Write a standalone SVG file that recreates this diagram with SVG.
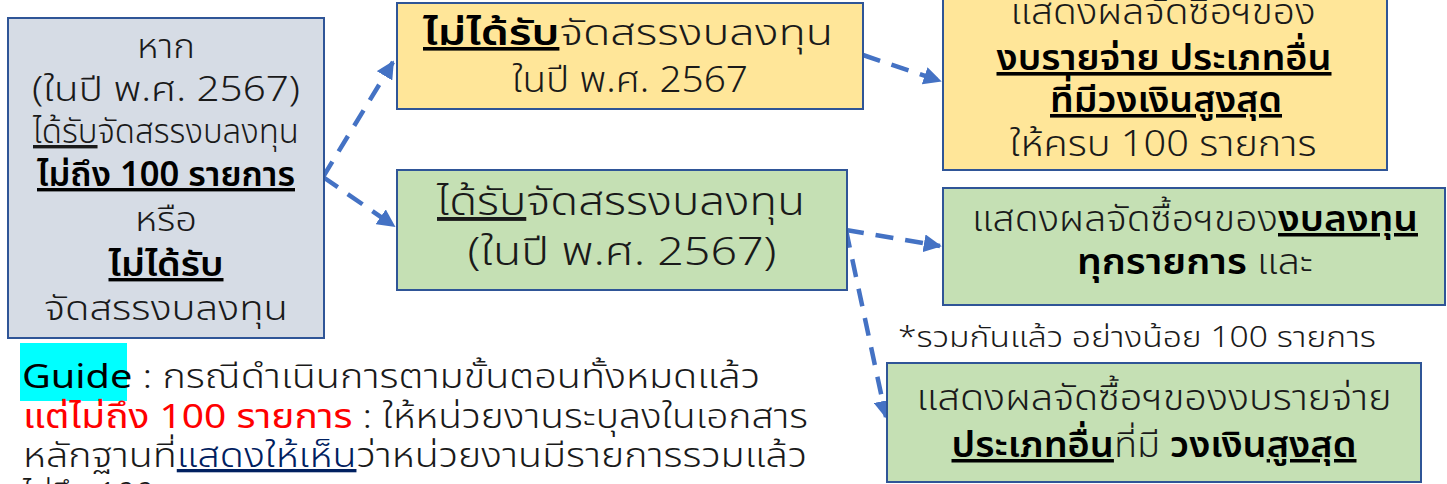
<svg xmlns="http://www.w3.org/2000/svg" width="1447" height="484" viewBox="0 0 1447 484">
<style>
text{font-family:"Noto Sans Thai","Leelawadee UI","Noto Sans",sans-serif;fill:#1a1a1a;font-weight:300}
.c{text-anchor:middle}
.b{font-weight:600;fill:#000}
.u{text-decoration:underline}
.box{stroke:#2F5597;stroke-width:2}
.gray{fill:#D6DCE5}.yel{fill:#FFE699}.grn{fill:#C5E0B4}
.con{fill:none;stroke:#4472C4;stroke-width:4.5;stroke-dasharray:18 12}
</style>
<defs>
<marker id="ah" viewBox="0 0 10 10" refX="9" refY="5" markerWidth="4" markerHeight="4" orient="auto" markerUnits="strokeWidth">
<path d="M0,0 L10,5 L0,10 z" fill="#4472C4"/>
</marker>
</defs>
<g id="connectors">
<path class="con" d="M323,177 L393,62" marker-end="url(#ah)"/>
<path class="con" d="M323,177 L394,226" marker-end="url(#ah)"/>
<path class="con" d="M863,55 L940,81" marker-end="url(#ah)"/>
<path class="con" d="M846,230 L940,246" marker-end="url(#ah)"/>
<path class="con" d="M846,230 L886,417" marker-end="url(#ah)"/>
</g>
<g id="n1" font-size="34">
<rect class="box gray" x="8" y="18" width="316" height="320"/>
<text class="c" x="166" y="58" textLength="58" lengthAdjust="spacingAndGlyphs">หาก</text>
<text class="c" x="166" y="101" textLength="268" lengthAdjust="spacingAndGlyphs">(ในปี พ.ศ. 2567)</text>
<text class="c" x="166" y="143" textLength="266" lengthAdjust="spacingAndGlyphs"><tspan class="u">ได้รับ</tspan>จัดสรรงบลงทุน</text>
<text class="c b u" x="166" y="186" textLength="258" lengthAdjust="spacingAndGlyphs">ไม่ถึง 100 รายการ</text>
<text class="c" x="166" y="231" textLength="62" lengthAdjust="spacingAndGlyphs">หรือ</text>
<text class="c b u" x="166" y="276" textLength="115" lengthAdjust="spacingAndGlyphs">ไม่ได้รับ</text>
<text class="c" x="166" y="320" textLength="244" lengthAdjust="spacingAndGlyphs">จัดสรรงบลงทุน</text>
</g>
<g id="n2" font-size="36">
<rect class="box yel" x="397" y="3" width="466" height="106"/>
<text class="c" x="628" y="45" textLength="410" lengthAdjust="spacingAndGlyphs"><tspan class="b u">ไม่ได้รับ</tspan>จัดสรรงบลงทุน</text>
<text class="c" x="630" y="92" textLength="236" lengthAdjust="spacingAndGlyphs">ในปี พ.ศ. 2567</text>
</g>
<g id="n3" font-size="36">
<rect class="box yel" x="943" y="-5" width="444" height="175"/>
<text class="c" x="1163" y="24" textLength="305" lengthAdjust="spacingAndGlyphs">แสดงผลจัดซื้อฯของ</text>
<text class="c b u" x="1164" y="70" textLength="335" lengthAdjust="spacingAndGlyphs">งบรายจ่าย ประเภทอื่น</text>
<text class="c b u" x="1166" y="112" textLength="232" lengthAdjust="spacingAndGlyphs">ที่มีวงเงินสูงสุด</text>
<text class="c" x="1163" y="156" textLength="307" lengthAdjust="spacingAndGlyphs">ให้ครบ 100 รายการ</text>
</g>
<g id="n4" font-size="39">
<rect class="box grn" x="397" y="170" width="450" height="120"/>
<text class="c" x="621" y="215" textLength="368" lengthAdjust="spacingAndGlyphs"><tspan class="u">ได้รับ</tspan>จัดสรรงบลงทุน</text>
<text class="c" x="622" y="265" textLength="309" lengthAdjust="spacingAndGlyphs">(ในปี พ.ศ. 2567)</text>
</g>
<g id="n5" font-size="35">
<rect class="box grn" x="943" y="188" width="502" height="117"/>
<text class="c" x="1195" y="231" textLength="446" lengthAdjust="spacingAndGlyphs">แสดงผลจัดซื้อฯของ<tspan class="b u">งบลงทุน</tspan></text>
<text class="c" x="1195" y="274" textLength="236" lengthAdjust="spacingAndGlyphs"><tspan class="b">ทุกรายการ</tspan> และ</text>
</g>
<g id="note">
<text x="898" y="347" font-size="29" textLength="478" lengthAdjust="spacingAndGlyphs">*รวมกันแล้ว อย่างน้อย 100 รายการ</text>
</g>
<g id="n6" font-size="35">
<rect class="box grn" x="887" y="363" width="534" height="119"/>
<text class="c" x="1154" y="410" textLength="475" lengthAdjust="spacingAndGlyphs">แสดงผลจัดซื้อฯของงบรายจ่าย</text>
<text class="c" x="1154" y="457" textLength="405" lengthAdjust="spacingAndGlyphs"><tspan class="b u">ประเภทอื่น</tspan>ที่มี <tspan class="b">วงเงิน</tspan><tspan class="b u">สูงสุด</tspan></text>
</g>
<g id="guide" font-size="33">
<rect x="20" y="343" width="107" height="58" fill="#00FFFF"/>
<text x="22" y="388" textLength="738" lengthAdjust="spacingAndGlyphs"><tspan fill="#000" style="font-weight:400">Guide</tspan> : กรณีดำเนินการตามขั้นตอนทั้งหมดแล้ว</text>
<text x="23" y="428" textLength="785" lengthAdjust="spacingAndGlyphs"><tspan fill="#FF0000" style="font-weight:400">แต่ไม่ถึง 100 รายการ</tspan> : ให้หน่วยงานระบุลงในเอกสาร</text>
<text x="23" y="467" textLength="784" lengthAdjust="spacingAndGlyphs">หลักฐานที่<tspan class="u" fill="#002060">แสดงให้เห็น</tspan>ว่าหน่วยงานมีรายการรวมแล้ว</text>
<text x="23" y="506">ไม่ถึง 100</text>
</g>
</svg>
